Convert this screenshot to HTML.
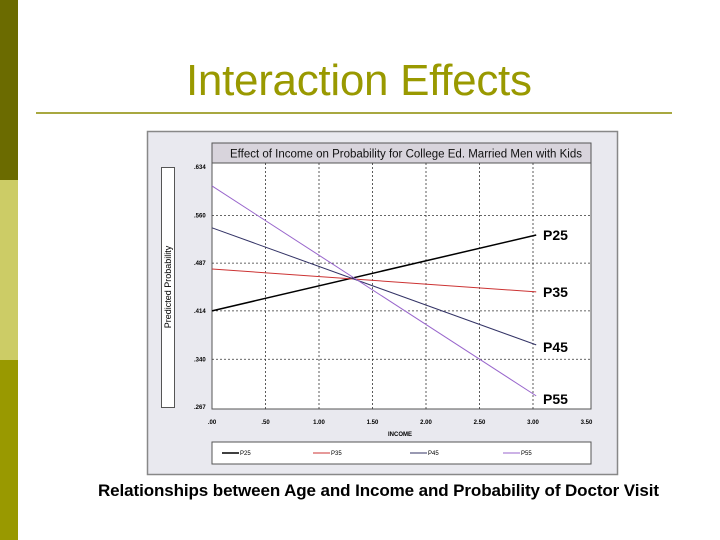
<!DOCTYPE html>
<html><head><meta charset="utf-8"><style>
body{margin:0;width:720px;height:540px;background:#fff;position:relative;overflow:hidden;font-family:"Liberation Sans",sans-serif}
</style></head><body>
<div style="position:absolute;left:0;top:0;width:18px;height:180px;background:#6b6b00"></div>
<div style="position:absolute;left:0;top:180px;width:18px;height:180px;background:#cccc66"></div>
<div style="position:absolute;left:0;top:360px;width:18px;height:180px;background:#999900"></div>
<div style="position:absolute;left:186px;top:56px;font-size:44px;color:#999900;letter-spacing:-0.3px;white-space:nowrap">Interaction Effects</div>
<div style="position:absolute;left:36px;top:112px;width:636px;height:2px;background:#a8a840"></div>
<svg width="720" height="540" style="position:absolute;left:0;top:0" font-family="Liberation Sans, sans-serif">
<g id="g"></g>
</svg>
<div style="position:absolute;left:98px;top:481px;font-size:17px;font-weight:bold;color:#000;white-space:nowrap;letter-spacing:-0.1px">Relationships between Age and Income and Probability of Doctor Visit</div>
<script>
const xTicks=[0,0.5,1.0,1.5,2.0,2.5,3.0,3.5];
const xTickLabels=[".00",".50","1.00","1.50","2.00","2.50","3.00","3.50"];
const yTicks=[0.267,0.340,0.414,0.487,0.560,0.634];
const yTickLabels=[".267",".340",".414",".487",".560",".634"];
const seriesNames=["P25","P35","P45","P55"];
const seriesX=[0,3.03];
const p25=[0.414,0.530];
const p35=[0.478,0.443];
const p45=[0.541,0.362];
const p55=[0.605,0.284];
const colors=["#000","#cc3333","#333366","#9966cc"];
const NS="http://www.w3.org/2000/svg";
const g=document.getElementById('g');
const X=v=>212+v*107, Y=v=>407-(v-0.267)/(0.634-0.267)*240;
function el(t,a,txt){const e=document.createElementNS(NS,t);for(const k in a)e.setAttribute(k,a[k]);if(txt!=null)e.textContent=txt;g.appendChild(e);return e;}
let e;
e=el('rect',{x:147.5,y:131.5,width:470,height:343,fill:'#e9e9ef',stroke:'#888',"stroke-width":1.5});

e=el('rect',{x:212,y:143,width:379,height:20,fill:'#d8d4dc',stroke:'#555'});

e=el('text',{x:406,y:157.5,"font-size":11.5,"text-anchor":"middle",fill:'#111'},'Effect of Income on Probability for College Ed. Married Men with Kids');

e=el('rect',{x:212,y:163,width:379,height:246,fill:'#fff',stroke:'#555'});

e=el('rect',{x:161.5,y:167.5,width:13,height:240,fill:'#fff',stroke:'#555'});

e=el('text',{x:0,y:0,"font-size":9,"text-anchor":"middle",transform:'translate(171,287) rotate(-90)'},'Predicted Probability');

xTicks.forEach((v,i)=>{
 if(i>0&&i<xTicks.length-1){e=el('line',{x1:X(v),x2:X(v),y1:163,y2:409,stroke:'#333',"stroke-dasharray":'2,2',"stroke-width":0.8});
 }
 e=el('text',{x:X(v),y:424,"font-size":6,"font-weight":"bold","text-anchor":"middle"},xTickLabels[i]);
 
});
yTicks.forEach((v,i)=>{
 if(i>0&&i<yTicks.length-1){e=el('line',{x1:212,x2:591,y1:Y(v),y2:Y(v),stroke:'#333',"stroke-dasharray":'2,2',"stroke-width":0.8});
 }
 e=el('text',{x:194,y:Y(v)+2,"font-size":6,"font-weight":"bold"},yTickLabels[i]);
 
});
e=el('text',{x:400,y:436,"font-size":6,"font-weight":"bold","text-anchor":"middle"},'INCOME');

[p25,p35,p45,p55].forEach((s,i)=>{
 e=el('line',{x1:X(seriesX[0]),y1:Y(s[0]),x2:X(seriesX[1]),y2:Y(s[1]),stroke:colors[i],"stroke-width":i==0?1.5:1});
 
 e=el('text',{x:543,y:[240,297,352,404][i],"font-size":14,"font-weight":"bold"},seriesNames[i]);
 
});
e=el('rect',{x:212,y:442,width:379,height:22,fill:'#fff',stroke:'#555'});

[222,313,410,503].forEach((lx,i)=>{
 e=el('line',{x1:lx,x2:lx+17,y1:453,y2:453,stroke:colors[i],"stroke-width":i==0?1.5:1});
 
 e=el('text',{x:lx+18,y:455,"font-size":6},seriesNames[i]);
 
});
</script>
</body></html>
